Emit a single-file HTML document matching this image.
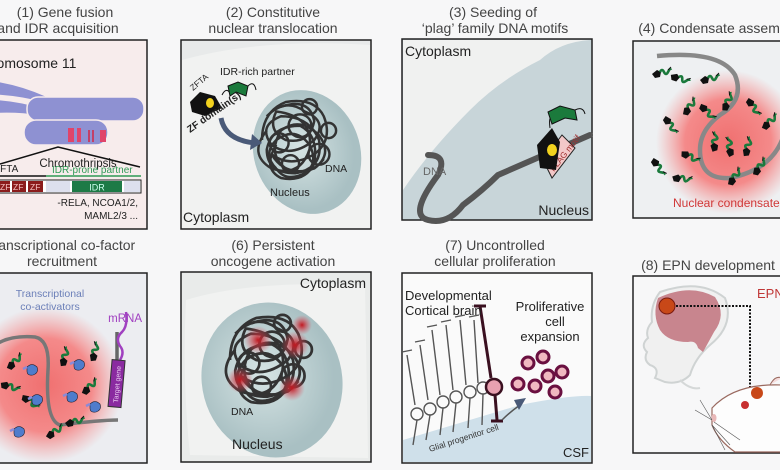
<!DOCTYPE html>
<html><head><meta charset="utf-8"><style>
html,body{margin:0;padding:0;background:#f7f7f8;}
svg{display:block;font-family:"Liberation Sans",sans-serif;}
.t{font-size:14px;fill:#444;text-anchor:middle;}
</style></head><body>
<svg width="780" height="470" viewBox="0 0 780 470" xmlns="http://www.w3.org/2000/svg">
<defs>
<radialGradient id="glow"><stop offset="0" stop-color="#f07070"/><stop offset="0.6" stop-color="#f48a8a"/><stop offset="1" stop-color="#f4a0a0" stop-opacity="0"/></radialGradient>
<radialGradient id="nuc" cx="0.45" cy="0.45"><stop offset="0" stop-color="#d6e4e4"/><stop offset="1" stop-color="#a9c0c3"/></radialGradient>
<radialGradient id="red" ><stop offset="0" stop-color="#c01820"/><stop offset="1" stop-color="#e05060" stop-opacity="0"/></radialGradient>
<symbol id="fp" viewBox="0 0 20 14" overflow="visible">
<path d="M0 8 L5 4 L9 6 L8 11 L3 12 Z" fill="#111"/>
<path d="M8 6 q2 -4 4 0 t4 0 t3 -2" stroke="#1b7a3c" stroke-width="2.6" fill="none"/>
<path d="M16 4 l3 -3" stroke="#111" stroke-width="1"/>
</symbol>
<symbol id="ca" viewBox="0 0 14 14" overflow="visible">
<path d="M2 4 Q7 -1 12 4 Q14 10 8 12 Q2 13 2 8 Z" fill="#4f7ccc" stroke="#223" stroke-width="0.6"/>
<path d="M-2 6 l4 -2" stroke="#8a8ad8" stroke-width="2.5"/>
</symbol>
<g id="tangle" stroke="#333" stroke-width="2.6" fill="none">
<path d="M-35 -25 q20 -20 40 -5 q25 10 10 30 q-25 20 -45 5 q-15 -20 10 -30 q30 0 40 25 q5 30 -25 35 q-30 0 -30 -25 q5 -25 35 -25 q20 10 15 40 q-10 20 -35 15 q-20 -10 -5 -35"/>
<path d="M-20 -35 q30 -10 35 15 q-5 25 -30 20 q-20 -10 -10 -30 q40 5 35 40 q-10 30 -40 20 q-25 -15 -5 -40"/>
<path d="M-30 15 q15 25 45 15 q20 -15 5 -35 q-20 -20 -40 -5 q-15 25 5 40 q25 10 40 -10"/>
<path d="M-40 0 q0 -30 25 -40 q30 -5 40 15 q10 25 -10 40 q-25 15 -45 0"/>
<path d="M-25 30 q-15 -15 0 -30 q20 -15 35 5 q10 20 -5 30 q-20 10 -30 -5"/>
<circle cx="0" cy="-15" r="12"/><circle cx="-22" cy="3" r="10"/><circle cx="20" cy="15" r="11"/>
<circle cx="10" cy="-35" r="8"/><circle cx="-10" cy="25" r="9"/><circle cx="30" cy="-10" r="8"/>
</g>
</defs>

<!-- Titles -->
<text class="t" x="65" y="17">(1) Gene fusion</text>
<text class="t" x="58" y="33">and IDR acquisition</text>
<text class="t" x="273" y="17">(2) Constitutive</text>
<text class="t" x="273" y="33">nuclear translocation</text>
<text class="t" x="493" y="17">(3) Seeding of</text>
<text class="t" x="495" y="33">‘plag’ family DNA motifs</text>
<text class="t" x="718" y="33">(4) Condensate assembly</text>
<text class="t" x="50" y="250">(5) Transcriptional co-factor</text>
<text class="t" x="62" y="266">recruitment</text>
<text class="t" x="273" y="250">(6) Persistent</text>
<text class="t" x="273" y="266">oncogene activation</text>
<text class="t" x="495" y="250">(7) Uncontrolled</text>
<text class="t" x="495" y="266">cellular proliferation</text>
<text class="t" x="708" y="270">(8) EPN development</text>

<!-- Panel 1 -->
<rect x="-5" y="40" width="152" height="189" fill="#f7ecec" stroke="#222" stroke-width="1.5"/>
<text x="-26" y="68" font-size="14" fill="#222">Chromosome 11</text>
<g stroke="#f7ecec" stroke-width="1.5" fill="#8e91d2">
<path d="M-10 80 Q20 84 46 96 Q50 101 44 103 Q18 96 -10 95 Z"/>
<path d="M-10 99 Q18 100 42 108 Q46 114 40 116 Q15 112 -10 114 Z"/>
<rect x="27" y="97" width="117" height="24" rx="11"/>
<rect x="24" y="120" width="84" height="25" rx="12"/>
</g>
<rect x="68" y="128" width="6" height="14" fill="#e0446a"/><rect x="77" y="128" width="4" height="14" fill="#e0446a"/>
<rect x="88" y="130" width="2" height="12" fill="#c24068"/><rect x="92" y="130" width="2" height="12" fill="#c24068"/>
<rect x="100" y="130" width="6" height="12" fill="#e0446a"/>
<path d="M0 164 L58 147 L140 167" stroke="#111" stroke-width="1.5" fill="none"/>
<text x="78" y="167" font-size="11.5" fill="#222" text-anchor="middle">Chromothripsis</text>
<text x="-6" y="172" font-size="10" fill="#222">ZFTA</text>
<text x="52" y="173" font-size="10" fill="#2e9a55">IDR-prone partner</text>
<line x1="0" y1="176" x2="46" y2="176" stroke="#111" stroke-width="1.6"/>
<line x1="46" y1="176" x2="141" y2="176" stroke="#2e9a55" stroke-width="1.6"/>
<rect x="-5" y="180" width="146" height="13" fill="#fff" stroke="#222"/>
<rect x="-5" y="181" width="15" height="11" fill="#8b1c1c"/><rect x="12" y="181" width="14" height="11" fill="#8b1c1c"/><rect x="28" y="181" width="15" height="11" fill="#8b1c1c"/>
<text x="13" y="190" font-size="8.5" fill="#f4c0c0">ZF</text><text x="30" y="190" font-size="8.5" fill="#f4c0c0">ZF</text><text x="0" y="190" font-size="8.5" fill="#f4c0c0">ZF</text>
<rect x="46" y="181" width="24" height="11" fill="#dde0ee"/>
<rect x="72" y="181" width="50" height="11" fill="#1d7a46"/>
<text x="97" y="190.5" font-size="9" fill="#cfe" text-anchor="middle">IDR</text>
<rect x="124" y="181" width="16" height="11" fill="#dde0ee"/>
<text x="138" y="206" font-size="10" fill="#222" text-anchor="end">-RELA, NCOA1/2,</text>
<text x="138" y="219" font-size="10" fill="#222" text-anchor="end">MAML2/3 ...</text>

<!-- Panel 2 -->
<rect x="181" y="40" width="190" height="189" fill="#e8eaea" stroke="#222" stroke-width="1.5"/>
<path d="M182 60 Q260 38 370 45 L370 228 L182 228 Z" fill="#f1f2f1"/>
<ellipse cx="307" cy="152" rx="53" ry="63" fill="url(#nuc)" transform="rotate(-20 307 152)"/>
<use href="#tangle" transform="translate(300 140) scale(0.95)"/>
<path d="M190 102 L200 92 L215 96 L222 108 L205 116 L192 112 Z" fill="#111"/>
<ellipse cx="210" cy="103" rx="4" ry="5" fill="#f2d21e"/>
<path d="M222 95 q4 -8 8 -2" stroke="#111" fill="none"/>
<path d="M228 86 L238 82 L248 86 L246 96 L236 92 L230 96 Z" fill="#1b7a3c" stroke="#111"/>
<path d="M248 86 q6 -6 8 4" stroke="#111" fill="none"/>
<text x="220" y="75" font-size="10.5" fill="#222">IDR-rich partner</text>
<text x="193" y="91" font-size="8.5" fill="#222" transform="rotate(-40 193 91)">ZFTA</text>
<text x="190" y="133" font-size="10" font-weight="bold" fill="#222" transform="rotate(-35 190 133)">ZF domain(s)</text>
<path d="M221 118 Q225 140 255 143" stroke="#4a5a78" stroke-width="5" fill="none"/>
<path d="M252 134 L262 143 L250 150 Z" fill="#4a5a78"/>
<text x="325" y="172" font-size="10.5" fill="#222">DNA</text>
<text x="270" y="196" font-size="11" fill="#222">Nucleus</text>
<text x="183" y="222" font-size="14" fill="#222">Cytoplasm</text>

<!-- Panel 3 -->
<rect x="402" y="39" width="190" height="181" fill="#c8d5d9" stroke="#222" stroke-width="1.5"/>
<path d="M403 40 L590 40 Q560 42 540 60 Q500 80 470 110 Q430 150 403 190 Z" fill="#f0f1f0"/>
<path d="M428 155 q20 0 10 20 q-30 40 -10 45 q20 5 35 -15 q20 -15 35 -30 L590 135" stroke="#555" stroke-width="6" fill="none" stroke-linecap="round"/>
<text x="423" y="175" font-size="11" fill="#666">DNA</text>
<path d="M543 160 L562 135 L575 148 L552 178 Z" fill="#f3c8c8" stroke="#222"/>
<text x="554" y="172" font-size="8.5" fill="#a03030" transform="rotate(-52 554 172)">PLAG motif</text>
<path d="M537 145 L552 128 L560 142 L556 170 L540 168 Z" fill="#111"/>
<ellipse cx="552" cy="150" rx="5" ry="6" fill="#f2d21e"/>
<path d="M550 128 q-2 -15 5 -10" stroke="#111" fill="none"/>
<path d="M548 112 L560 106 L575 110 L577 120 L565 118 L552 124 Z" fill="#1b7a3c" stroke="#111"/>
<path d="M575 110 q8 -4 10 4" stroke="#111" fill="none"/>
<text x="405" y="56" font-size="14" fill="#222">Cytoplasm</text>
<text x="589" y="215" font-size="14" fill="#222" text-anchor="end">Nucleus</text>

<!-- Panel 4 -->
<rect x="633" y="41" width="160" height="177" fill="#eef0f2" stroke="#222" stroke-width="1.5"/>
<circle cx="728" cy="142" r="72" fill="url(#glow)"/>
<path d="M657 56 Q720 50 735 75 Q745 100 720 115 Q700 130 700 150 Q700 180 730 178 Q770 170 782 140" stroke="#888" stroke-width="4.5" fill="none"/>
<g>
<use href="#fp" x="652" y="66" width="20" height="14"/>
<use href="#fp" x="670" y="72" width="20" height="14" transform="rotate(30 680 79)"/>
<use href="#fp" x="700" y="72" width="20" height="14"/>
<use href="#fp" x="680" y="100" width="20" height="14" transform="rotate(-40 690 107)"/>
<use href="#fp" x="660" y="118" width="20" height="14" transform="rotate(70 670 125)"/>
<use href="#fp" x="697" y="105" width="20" height="14" transform="rotate(60 707 112)"/>
<use href="#fp" x="718" y="95" width="20" height="14" transform="rotate(-50 728 102)"/>
<use href="#fp" x="743" y="100" width="20" height="14" transform="rotate(70 753 107)"/>
<use href="#fp" x="760" y="115" width="20" height="14" transform="rotate(-30 770 122)"/>
<use href="#fp" x="705" y="135" width="20" height="14" transform="rotate(-70 715 142)"/>
<use href="#fp" x="720" y="140" width="20" height="14" transform="rotate(-80 730 147)"/>
<use href="#fp" x="738" y="140" width="20" height="14" transform="rotate(-60 748 147)"/>
<use href="#fp" x="680" y="150" width="20" height="14" transform="rotate(40 690 157)"/>
<use href="#fp" x="750" y="160" width="20" height="14" transform="rotate(-40 760 167)"/>
<use href="#fp" x="648" y="160" width="20" height="14" transform="rotate(70 658 167)"/>
<use href="#fp" x="672" y="172" width="20" height="14" transform="rotate(20 682 179)"/>
<use href="#fp" x="725" y="170" width="20" height="14" transform="rotate(-40 735 177)"/>
</g>
<text x="673" y="207" font-size="12" fill="#d03838">Nuclear condensate</text>

<!-- Panel 5 -->
<rect x="-5" y="273" width="152" height="190" fill="#ecedf1" stroke="#222" stroke-width="1.5"/>
<circle cx="45" cy="385" r="78" fill="url(#glow)"/>
<path d="M-5 345 Q10 335 35 337 Q50 340 48 370 Q45 420 60 425 Q100 420 118 420" stroke="#777" stroke-width="3.5" fill="none"/>
<line x1="117" y1="332" x2="117" y2="362" stroke="#666" stroke-width="3.5"/>
<path d="M120 360 q5 -8 0 -14 q-5 -8 2 -14 q6 -6 4 -20" stroke="#a040c0" stroke-width="2.5" fill="none"/>
<rect x="110" y="360" width="13" height="47" fill="#8a2aa0" stroke="#333" transform="rotate(5 116 384)"/>
<text x="118" y="403" font-size="7" fill="#e8c8f0" transform="rotate(-85 118 403)">Target gene</text>
<text x="50" y="297" font-size="10.5" fill="#6b7fb8" text-anchor="middle">Transcriptional</text>
<text x="50" y="310" font-size="10.5" fill="#6b7fb8" text-anchor="middle">co-activators</text>
<text x="142" y="322" font-size="11.5" fill="#a040c0" text-anchor="end">mRNA</text>
<use href="#fp" x="5" y="355" width="20" height="14" transform="rotate(-30 15 362)"/>
<use href="#fp" x="55" y="350" width="20" height="14" transform="rotate(-60 65 357)"/>
<use href="#fp" x="20" y="395" width="20" height="14" transform="rotate(50 30 402)"/>
<use href="#fp" x="80" y="380" width="20" height="14" transform="rotate(-30 90 387)"/>
<use href="#fp" x="45" y="425" width="20" height="14" transform="rotate(-20 55 432)"/>
<use href="#fp" x="65" y="415" width="20" height="14"/>
<use href="#fp" x="0" y="380" width="20" height="14" transform="rotate(30 10 387)"/>
<use href="#fp" x="85" y="345" width="20" height="14" transform="rotate(-60 95 352)"/>
<use href="#ca" x="25" y="363" width="14" height="14"/>
<use href="#ca" x="72" y="358" width="14" height="14"/>
<use href="#ca" x="65" y="390" width="14" height="14"/>
<use href="#ca" x="88" y="400" width="14" height="14"/>
<use href="#ca" x="30" y="393" width="14" height="14"/>
<use href="#ca" x="12" y="425" width="14" height="14"/>

<!-- Panel 6 -->
<rect x="181" y="272" width="190" height="190" fill="#e9ebea" stroke="#222" stroke-width="1.5"/>
<path d="M186 300 Q250 280 365 285 L368 458 L190 455 Q182 380 186 300Z" fill="#f1f2f1"/>
<ellipse cx="272" cy="380" rx="70" ry="78" fill="url(#nuc)" transform="rotate(-15 272 380)"/>
<use href="#tangle" transform="translate(272 360) scale(1.05)"/>
<circle cx="258" cy="340" r="14" fill="url(#red)"/><circle cx="295" cy="345" r="14" fill="url(#red)"/>
<circle cx="240" cy="380" r="13" fill="url(#red)"/><circle cx="292" cy="388" r="13" fill="url(#red)"/>
<circle cx="302" cy="325" r="10" fill="url(#red)"/>
<text x="231" y="415" font-size="10.5" fill="#222">DNA</text>
<text x="232" y="449" font-size="14" fill="#222">Nucleus</text>
<text x="366" y="288" font-size="14" fill="#222" text-anchor="end">Cytoplasm</text>

<!-- Panel 7 -->
<rect x="402" y="273" width="190" height="190" fill="#fafafa" stroke="#222" stroke-width="1.5"/>
<path d="M403 440 Q470 420 520 405 Q570 395 591 396 L591 462 L403 462Z" fill="#cfe0ea"/>
<g stroke="#555" stroke-width="1.4" fill="none">
<path d="M415 405 L407 355 M402 352 l10 -2"/><path d="M428 400 L420 345 M415 342 l10 -2"/>
<path d="M440 395 L432 330 M427 327 l10 -2"/><path d="M453 390 L446 325 M441 322 l10 -2"/>
<path d="M466 385 L460 320 M455 317 l10 -2"/><path d="M478 383 L474 320 M469 317 l10 -2"/>
<circle cx="417" cy="414" r="6"/><circle cx="430" cy="409" r="6"/><circle cx="443" cy="402" r="6"/><circle cx="456" cy="397" r="6"/><circle cx="470" cy="392" r="6"/><circle cx="483" cy="388" r="6"/>
<path d="M417 420 L413 445 M430 415 L426 440 M443 408 L440 435 M456 403 L453 432 M470 398 L468 428 M483 394 L482 425"/>
</g>
<path d="M480 306 L491 378 M474 306 h12" stroke="#3a1020" stroke-width="3"/>
<circle cx="494" cy="387" r="8" fill="#e8a0b0" stroke="#3a1020" stroke-width="2.5"/>
<path d="M495 395 L497 420 M491 421 h12" stroke="#3a1020" stroke-width="3"/>
<path d="M502 420 Q510 412 520 405" stroke="#555" stroke-width="1.5" fill="none"/>
<path d="M514 400 L526 398 L519 410Z" fill="#4a5a78"/>
<g fill="#f0b8c0" stroke="#6a1040" stroke-width="3">
<circle cx="528" cy="363" r="6"/><circle cx="543" cy="357" r="6"/><circle cx="548" cy="376" r="6"/><circle cx="535" cy="386" r="6"/><circle cx="518" cy="384" r="6"/><circle cx="562" cy="372" r="6"/><circle cx="555" cy="392" r="6"/>
</g>
<text x="405" y="300" font-size="13" fill="#222">Developmental</text>
<text x="405" y="315" font-size="13" fill="#222">Cortical brain</text>
<text x="550" y="311" font-size="13" fill="#222" text-anchor="middle">Proliferative</text>
<text x="555" y="326" font-size="13" fill="#222" text-anchor="middle">cell</text>
<text x="550" y="341" font-size="13" fill="#222" text-anchor="middle">expansion</text>
<text x="430" y="452" font-size="8.5" fill="#333" transform="rotate(-18 430 452)">Glial progenitor cell</text>
<text x="589" y="457" font-size="13" fill="#222" text-anchor="end">CSF</text>

<!-- Panel 8 -->
<rect x="633" y="276" width="160" height="177" fill="#f7f7f8" stroke="#222" stroke-width="1.5"/>
<path d="M660 292 Q700 278 725 298 Q735 325 710 345 Q695 358 690 375 Q680 385 665 382 L655 378 Q660 368 650 365 Q643 360 647 352 Q640 345 648 338 Q645 330 652 322 Q650 305 660 292Z" fill="#f0f0f0" stroke="#cfd3d3" stroke-width="2"/>
<path d="M680 380 Q690 390 700 388" stroke="#d5d8d8" stroke-width="2" fill="none"/>
<path d="M658 298 Q690 283 715 297 Q727 315 714 332 Q708 343 703 352 L698 348 Q696 340 688 342 Q668 342 660 330 Q652 315 658 298Z" fill="#c8858e"/>
<circle cx="667" cy="306" r="8" fill="#c84818" stroke="#7a1a10"/>
<path d="M676 306 H750 V388" stroke="#111" stroke-width="2" stroke-dasharray="2 1.5" fill="none"/>
<text x="757" y="298" font-size="13" fill="#c03838">EPN</text>
<path d="M712 408 Q735 383 782 385 L782 452 L735 452 Q718 440 712 425Z" fill="#fdfdfd" stroke="#9a6a60" stroke-width="1.2"/>
<path d="M770 385 Q775 375 782 378" stroke="#9a6a60" fill="#f5dcdc"/>
<circle cx="757" cy="393" r="6" fill="#c84818"/>
<circle cx="745" cy="405" r="4" fill="#c83030"/>
<ellipse cx="714" cy="418" rx="2.5" ry="4" fill="#e8b8b8"/>
<g stroke="#555" stroke-width="0.6"><path d="M712 420 L700 400 M712 420 L695 410 M712 425 L730 445 M712 425 L725 450 M714 422 L740 440"/></g>
</svg>
</body></html>
